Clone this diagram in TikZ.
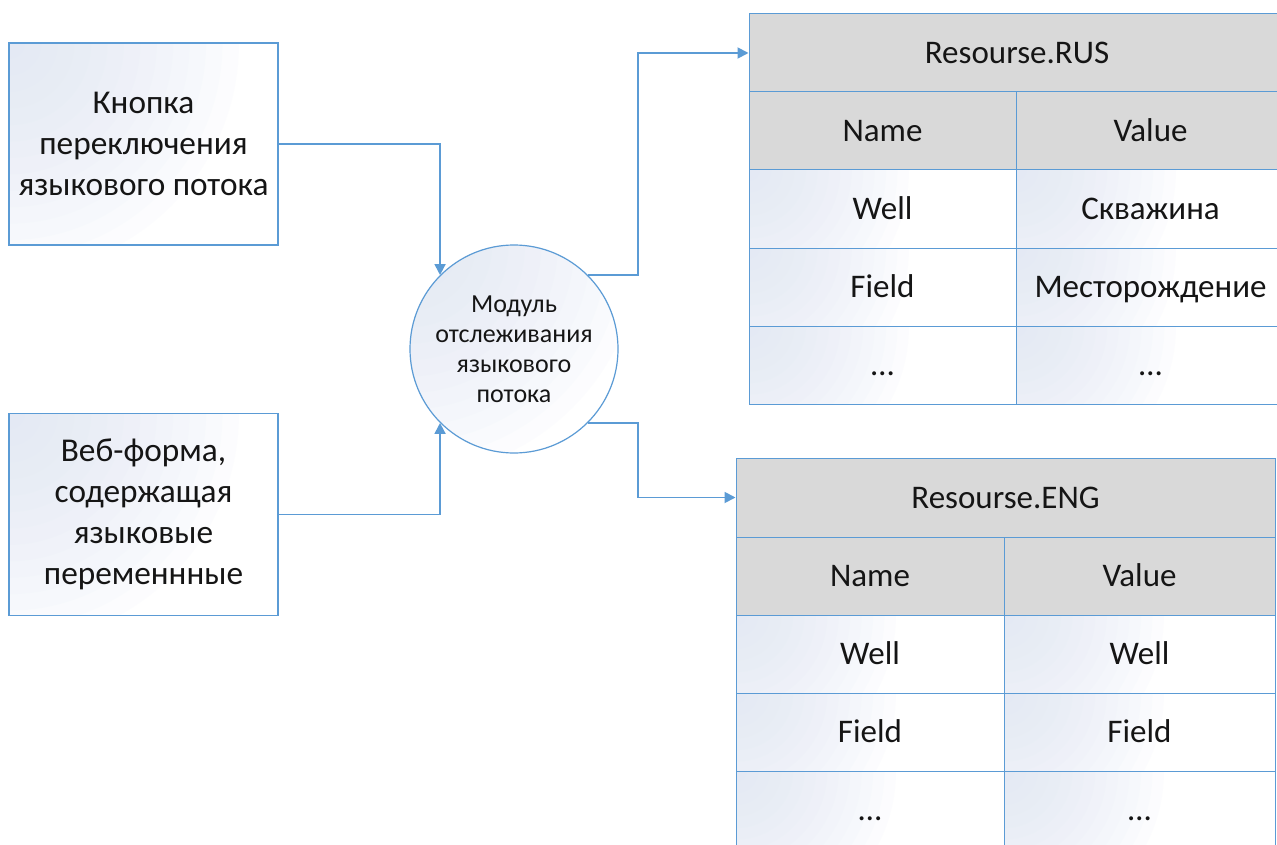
\documentclass[tikz,border=0pt]{standalone}
\usepackage{fontspec}
\setmainfont{Carlito}
\usetikzlibrary{arrows.meta,calc}
\definecolor{lineblue}{HTML}{5B9BD5}
\definecolor{tintblue}{HTML}{DDE5F4}
\definecolor{headgray}{HTML}{D9D9D9}
\definecolor{textdark}{HTML}{151515}
\tikzset{
  tinted/.style={fill=white, path picture={
    \foreach \k in {1,...,14}{
      \fill[tintblue, fill opacity=0.08]
        (path picture bounding box.north west) circle ({#1*\k/14});}}},
  srcbox/.style={draw=lineblue, line width=1.2pt, tinted=230,
    minimum width=269pt, minimum height=202pt, inner sep=0pt, align=center,
    text=textdark, font=\fontsize{33.3}{41}\selectfont},
  modnode/.style={circle, draw=lineblue, line width=1.2pt, tinted=230,
    minimum size=208pt, inner sep=0pt, align=center, text=textdark, font=\fontsize{26}{30}\selectfont},
  cellbase/.style={draw=lineblue, line width=1pt, minimum height=78pt, inner sep=0pt,
    text height=21pt, text depth=0pt, text=textdark, font=\fontsize{33}{38}\selectfont},
  headcell/.style={cellbase, fill=headgray},
  datacell/.style={cellbase, tinted=160},
  link/.style={draw=lineblue, line width=1.8pt, -{Triangle[length=11pt,width=11pt]}}
}
\begin{document}
\begin{tikzpicture}[x=1pt,y=-1pt]
\fill[white] (0,0) rectangle (1277,845);
\clip (0,0) rectangle (1277,845);

% source boxes
\node[srcbox] (b1) at (143.5,144) {Кнопка\\переключения\\языкового потока};
\node[srcbox] (b2) at (143.5,514.5) {Веб-форма,\\содержащая\\языковые\\переменнные};

% module
\node[modnode] (mod) at (514,349) {Модуль\\отслеживания\\языкового\\потока};

% table RUS
\node[headcell, minimum width=536pt] (t1t) at (1017,53) {Resourse.RUS};
\node[headcell, minimum width=267pt] (t1h1) at (882.5,131) {Name};
\node[headcell, minimum width=269pt] (t1h2) at (1150.5,131) {Value};
\node[datacell, minimum width=267pt] (t1a1) at (882.5,209) {Well};
\node[datacell, minimum width=269pt] (t1b1) at (1150.5,209) {Скважина};
\node[datacell, minimum width=267pt] (t1a2) at (882.5,287) {Field};
\node[datacell, minimum width=269pt] (t1b2) at (1150.5,287) {Месторождение};
\node[datacell, minimum width=267pt] (t1a3) at (882.5,365) {…};
\node[datacell, minimum width=269pt] (t1b3) at (1150.5,365) {…};

% table ENG
\node[headcell, minimum width=539pt, minimum height=79pt] (t2t) at (1005.5,497.5) {Resourse.ENG};
\node[headcell, minimum width=268pt] (t2h1) at (870,576) {Name};
\node[headcell, minimum width=271pt] (t2h2) at (1139.5,576) {Value};
\node[datacell, minimum width=268pt] (t2a1) at (870,654) {Well};
\node[datacell, minimum width=271pt] (t2b1) at (1139.5,654) {Well};
\node[datacell, minimum width=268pt] (t2a2) at (870,732) {Field};
\node[datacell, minimum width=271pt] (t2b2) at (1139.5,732) {Field};
\node[datacell, minimum width=268pt] (t2a3) at (870,810) {…};
\node[datacell, minimum width=271pt] (t2b3) at (1139.5,810) {…};

% connectors
\coordinate (jx) at (638,0);
\draw[link] (b1.east) -| (mod.135);
\draw[link] (b2.east) -| (mod.225);
\draw[link] (mod.45) -- (mod.45 -| jx) |- (t1t.west);
\draw[link] (mod.-45) -- (mod.-45 -| jx) |- (t2t.west);
\end{tikzpicture}
\end{document}
